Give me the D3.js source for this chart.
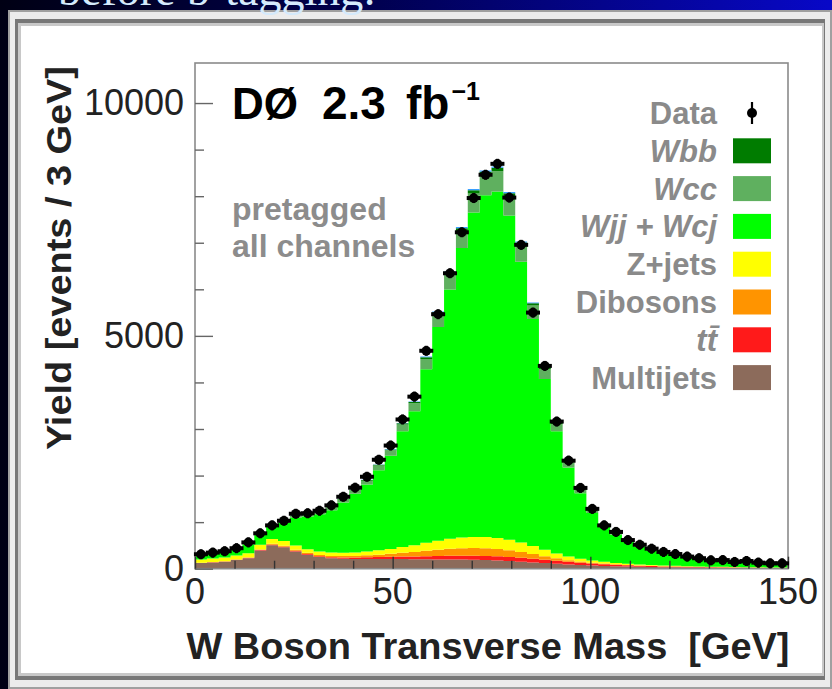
<!DOCTYPE html>
<html>
<head>
<meta charset="utf-8">
<script src="https://cdn.jsdelivr.net/npm/d3@7"></script>
<style>
  html, body { margin: 0; padding: 0; background: #000; }
  svg { display: block; }
</style>
</head>
<body>
<svg id="chart" width="832" height="689"></svg>
<script>
// ---- W boson transverse mass, 3 GeV bins from 0 to 150 GeV ----
const binWidth = 3;
const dataCounts = [310,345,375,440,565,760,930,1030,1180,1190,1245,1360,1545,1740,1975,2340,2645,3205,3695,4680,
  5465,6345,7225,7960,8460,8695,7970,6955,5500,4355,3160,2320,1735,1285,930,790,615,515,430,360,
  315,260,225,180,185,145,165,130,115,115];

// Stacked predictions, bottom to top
const multijets = [120,135,150,185,225,390,505,460,370,300,250,225,215,210,210,210,210,210,205,205,
  200,200,195,190,185,175,165,150,135,120,105,90,78,68,60,52,46,40,36,32,30,27,25,22,20,19,18,16,15,14];
const ttbar = [3,4,5,6,8,10,12,14,16,18,20,23,26,30,35,40,45,52,58,65,72,78,84,88,90,90,88,85,80,74,
  66,58,50,43,37,32,27,23,20,17,15,13,11,10,9,8,7,6,5,5];
const dibosons = [5,6,7,8,10,14,18,20,20,22,24,27,30,35,42,52,65,80,98,118,135,150,160,165,165,158,145,125,100,75,
  52,36,26,19,14,11,9,7,6,5,4,4,3,3,3,2,2,2,2,1];
const zJets = [70,75,80,85,90,100,105,100,90,80,75,72,72,75,82,92,105,122,145,170,195,215,230,240,242,238,225,205,175,140,
  105,78,58,45,36,30,25,21,18,15,13,11,10,9,8,7,6,6,5,5];
const wjjWcj = [95,103,115,131,193,229,289,388,601,699,798,907,1079,1259,1437,1721,2000,2486,2875,3727,
  4589,5351,6217,6965,7338,7438,6961,6025,4874,3666,2622,1910,1406,1021,749,611,468,386,317,262,
  222,186,155,128,122,102,110,89,77,75];
const wcc = [6,6,7,8,11,14,17,23,35,41,47,54,64,74,85,102,118,147,170,220,271,316,367,411,433,439,411,355,287,216,
  155,113,83,60,44,36,28,23,19,15,13,11,9,7,7,6,6,5,5,4];
const wbb = [1,1,1,1,2,2,3,4,6,7,8,9,10,12,14,17,19,24,28,36,44,52,60,67,71,72,67,58,47,35,
  25,18,14,10,7,6,5,4,3,3,2,2,1,1,1,1,1,1,1,1];
const singleTop = [0,0,0,1,1,1,1,1,2,3,3,3,4,5,5,6,8,9,11,14,17,20,23,26,28,28,26,23,18,14,
  10,7,5,4,3,2,2,1,1,1,1,1,1,0,0,0,0,0,0,0];

const layerKeys = ["multijets","ttbar","dibosons","zJets","wjjWcj","wcc","wbb","singleTop"];
const layerValues = {multijets, ttbar, dibosons, zJets, wjjWcj, wcc, wbb, singleTop};
const layerColors = {
  multijets: "#8c6b5b", ttbar: "#ff1a1a", dibosons: "#ff9400", zJets: "#ffff00",
  wjjWcj: "#00ff00", wcc: "#5fb05f", wbb: "#007c00", singleTop: "#3aa0ff"
};

// Legend rows (top to bottom)
const legendLabels = ["Data","Wbb","Wcc","Wjj + Wcj","Z+jets","Dibosons","tt\u0304","Multijets"];
const legendKeys   = [null,"wbb","wcc","wjjWcj","zJets","dibosons","ttbar","multijets"];
const legendItalic = [false,true,true,true,false,false,true,false];

const xTickValues = [0,50,100,150];
const yTickValues = [0,5000,10000];

// ---- geometry ----
const svg = d3.select("#chart");
const defs = svg.append("defs");

const bg = defs.append("linearGradient").attr("id","bgGrad").attr("x1","0").attr("x2","1").attr("y1","0").attr("y2","0");
bg.append("stop").attr("offset","0").attr("stop-color","#000014");
bg.append("stop").attr("offset","0.45").attr("stop-color","#000050");
bg.append("stop").attr("offset","1").attr("stop-color","#0808c8");
svg.append("rect").attr("width",832).attr("height",689).attr("fill","url(#bgGrad)");

// Bevelled picture frame
const frame = svg.append("g");
frame.append("rect").attr("x",8).attr("y",10).attr("width",824).attr("height",679).attr("fill","#a0a0a0");
frame.append("rect").attr("x",10).attr("y",12).attr("width",820).attr("height",675).attr("fill","#ececec");
frame.append("rect").attr("x",15).attr("y",19).attr("width",810).attr("height",661).attr("fill","#777");
frame.append("rect").attr("x",18).attr("y",23).attr("width",806).attr("height",653).attr("fill","#c8c8c8");
frame.append("rect").attr("x",21).attr("y",26).attr("width",801).attr("height",647).attr("fill","#fff");

// Slide heading, mostly above the visible area; descenders run over the frame top
svg.append("text")
  .attr("x",58).attr("y",5)
  .attr("font-family","'Liberation Serif', 'DejaVu Serif', serif")
  .attr("font-size",46)
  .attr("fill","#d4eafc")
  .text("before b-tagging:");

const plot = {left:195, right:788, top:63, bottom:568.7};
const x = d3.scaleLinear().domain([0,150]).range([plot.left, plot.right]);
const y = d3.scaleLinear().domain([0,10860]).range([plot.bottom, plot.top]);

// ---- stacked histogram ----
const rows = dataCounts.map((_, i) => {
  const r = {lo: i*binWidth, hi: (i+1)*binWidth};
  layerKeys.forEach(k => r[k] = layerValues[k][i]);
  return r;
});
const series = d3.stack().keys(layerKeys)(rows);

const area = d3.area()
  .x(p => x(p.x))
  .y0(p => y(p.y0))
  .y1(p => y(p.y1));

const g = svg.append("g");
series.forEach(s => {
  const pts = [];
  s.forEach(d => {
    pts.push({x: d.data.lo, y0: d[0], y1: d[1]});
    pts.push({x: d.data.hi, y0: d[0], y1: d[1]});
  });
  g.append("path").attr("d", area(pts)).attr("fill", layerColors[s.key]);
});

// ---- axes frame and ticks ----
const axisColor = "#8a8a8a";
svg.append("rect")
  .attr("x",plot.left).attr("y",plot.top)
  .attr("width",plot.right-plot.left).attr("height",plot.bottom-plot.top)
  .attr("fill","none").attr("stroke",axisColor).attr("stroke-width",1.6);

const yAxis = d3.axisRight(y).tickValues(d3.range(0,10001,1000)).tickSize(0).tickFormat("");
const yAx = svg.append("g").attr("transform",`translate(${plot.left},0)`).call(yAxis);
yAx.select(".domain").remove();
yAx.selectAll(".tick line")
  .attr("x2", d => yTickValues.includes(d) ? 18 : 9)
  .attr("stroke","#666").attr("stroke-width",1.4);

const xAxis = d3.axisTop(x).tickValues(d3.range(0,151,10)).tickSize(0).tickFormat("");
const xAx = svg.append("g").attr("transform",`translate(0,${plot.bottom})`).call(xAxis);
xAx.select(".domain").remove();
xAx.selectAll(".tick line")
  .attr("y2", d => xTickValues.includes(d) ? -12 : -8)
  .attr("stroke","#333").attr("stroke-width",1.4);

const labelFont = "'Liberation Sans', Arial, sans-serif";
svg.append("g").selectAll("text").data(yTickValues).join("text")
  .attr("x", plot.left-11).attr("y", d => y(d)+12)
  .attr("text-anchor","end")
  .attr("font-family",labelFont).attr("font-size",36).attr("fill","#222")
  .text(d => d);

svg.append("g").selectAll("text").data(xTickValues).join("text")
  .attr("x", d => x(d)).attr("y", plot.bottom+35)
  .attr("text-anchor","middle")
  .attr("font-family",labelFont).attr("font-size",36).attr("fill","#222")
  .text(d => d);

svg.append("text")
  .attr("transform",`translate(71,258) rotate(-90)`)
  .attr("text-anchor","middle")
  .attr("font-family",labelFont).attr("font-weight","bold").attr("font-size",35).attr("fill","#222")
  .attr("textLength",384).attr("lengthAdjust","spacingAndGlyphs")
  .text("Yield [events / 3 GeV]");

svg.append("text")
  .attr("x",488).attr("y",659)
  .attr("text-anchor","middle")
  .attr("font-family",labelFont).attr("font-weight","bold").attr("font-size",36).attr("fill","#222")
  .attr("textLength",603).attr("lengthAdjust","spacingAndGlyphs")
  .style("white-space","pre")
  .text("W Boson Transverse Mass  [GeV]");

// ---- experiment label ----
const lumi = svg.append("text")
  .attr("y",119)
  .attr("font-family",labelFont).attr("font-weight","bold").attr("font-size",44).attr("fill","#000");
lumi.append("tspan").attr("x",232).text("D\u00D8");
lumi.append("tspan").attr("x",322).attr("font-size",46).text("2.3");
lumi.append("tspan").attr("x",406).attr("font-size",46).text("fb");
lumi.append("tspan").attr("dx",2).attr("dy",-19).attr("font-size",25).text("\u22121");

const note = svg.append("text")
  .attr("font-family",labelFont).attr("font-weight","bold").attr("font-size",32).attr("fill","#8c8c8c");
note.append("tspan").attr("x",232).attr("y",220).text("pretagged");
note.append("tspan").attr("x",232).attr("y",257).text("all channels");

// ---- legend ----
const leg = svg.append("g");
legendLabels.forEach((lab, i) => {
  const cy = 113 + i*37.8;
  leg.append("text")
    .attr("x",717).attr("y",cy+11)
    .attr("text-anchor","end")
    .attr("font-family",labelFont).attr("font-weight","bold")
    .attr("font-style", legendItalic[i] ? "italic" : "normal")
    .attr("font-size",31).attr("fill","#8a8a8a")
    .text(lab);
  const key = legendKeys[i];
  if (key) {
    leg.append("rect").attr("x",733).attr("y",cy-12.5).attr("width",38).attr("height",25)
      .attr("fill",layerColors[key]);
  } else {
    leg.append("line").attr("x1",752).attr("x2",752).attr("y1",cy-11).attr("y2",cy+11)
      .attr("stroke","#000").attr("stroke-width",2.2);
    leg.append("circle").attr("cx",752).attr("cy",cy).attr("r",5).attr("fill","#000");
  }
});

// ---- data points with statistical errors ----
const pts = svg.append("g");
dataCounts.forEach((n, i) => {
  const cx = x((i+0.5)*binWidth), cy = y(n);
  const err = Math.max(y(0) - y(Math.sqrt(n)), 5);
  pts.append("line").attr("x1",cx).attr("x2",cx).attr("y1",cy-err).attr("y2",cy+err)
    .attr("stroke","#000").attr("stroke-width",3);
  pts.append("line").attr("x1",cx-7).attr("x2",cx+7).attr("y1",cy).attr("y2",cy)
    .attr("stroke","#000").attr("stroke-width",4);
  pts.append("circle").attr("cx",cx).attr("cy",cy).attr("r",4.8).attr("fill","#000");
});
</script>
</body>
</html>
